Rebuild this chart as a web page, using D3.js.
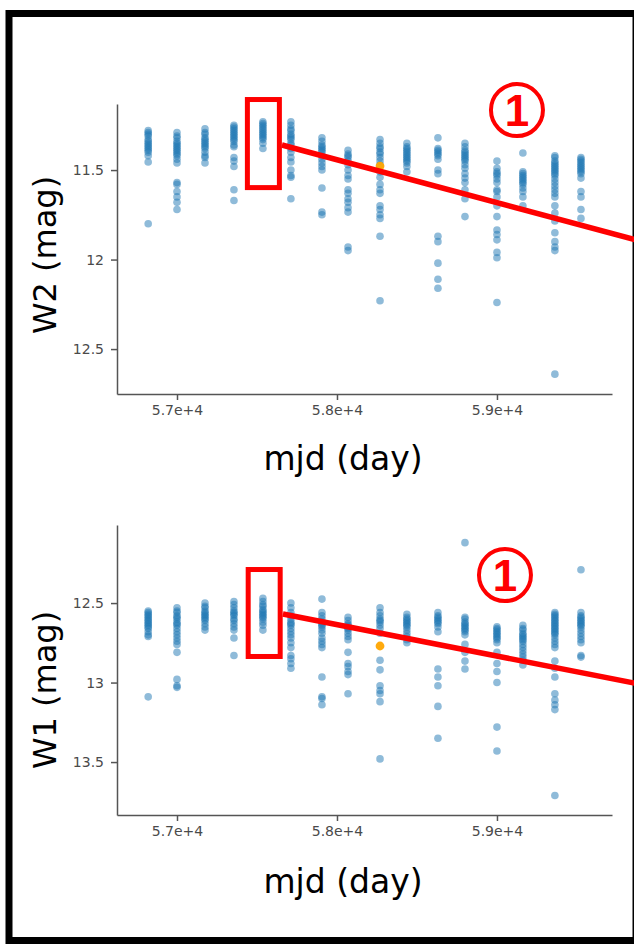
<!DOCTYPE html>
<html>
<head>
<meta charset="utf-8">
<script src="https://cdn.jsdelivr.net/npm/d3@7"></script>
<style>
  html, body { margin: 0; padding: 0; background: #fff; }
  svg { display: block; }
</style>
</head>
<body>
<svg id="chart" width="634" height="944"></svg>
<script>
// Observation epochs (MJD) shared by both WISE bands
const epochs = [56820, 57000, 57175, 57356, 57537, 57712, 57906, 58069,
                58269, 58437, 58631, 58800, 59000, 59162, 59362, 59525];

// W2 magnitudes per epoch
const w2Mags = [
  [11.28, 11.29, 11.30, 11.31, 11.33, 11.34, 11.35, 11.36, 11.37, 11.38, 11.39, 11.40, 11.42, 11.455, 11.80],
  [11.29, 11.31, 11.32, 11.34, 11.35, 11.36, 11.37, 11.38, 11.39, 11.40, 11.41, 11.42, 11.44, 11.46, 11.57, 11.58, 11.62, 11.65, 11.68, 11.72],
  [11.27, 11.29, 11.30, 11.32, 11.33, 11.34, 11.35, 11.36, 11.37, 11.38, 11.40, 11.42, 11.43, 11.46],
  [11.25, 11.26, 11.27, 11.28, 11.29, 11.30, 11.31, 11.32, 11.33, 11.34, 11.36, 11.37, 11.43, 11.45, 11.48, 11.61, 11.67],
  [11.23, 11.24, 11.25, 11.26, 11.27, 11.28, 11.29, 11.30, 11.31, 11.32, 11.33, 11.35, 11.38],
  [11.23, 11.25, 11.27, 11.28, 11.30, 11.31, 11.32, 11.33, 11.35, 11.36, 11.38, 11.40, 11.43, 11.455, 11.50, 11.53, 11.54, 11.66],
  [11.32, 11.34, 11.36, 11.37, 11.38, 11.39, 11.40, 11.42, 11.44, 11.46, 11.48, 11.50, 11.60, 11.735, 11.75],
  [11.39, 11.41, 11.42, 11.43, 11.45, 11.47, 11.50, 11.53, 11.55, 11.61, 11.63, 11.66, 11.68, 11.71, 11.735, 11.93, 11.95],
  [11.33, 11.35, 11.37, 11.38, 11.40, 11.41, 11.43, 11.45, 11.47, 11.51, 11.54, 11.58, 11.61, 11.63, 11.70, 11.72, 11.75, 11.77, 11.87, 12.23],
  [11.35, 11.37, 11.38, 11.39, 11.40, 11.41, 11.42, 11.43, 11.44, 11.45, 11.46, 11.48, 11.51],
  [11.32, 11.38, 11.39, 11.40, 11.41, 11.42, 11.44, 11.50, 11.52, 11.87, 11.90, 12.02, 12.11, 12.16],
  [11.35, 11.37, 11.39, 11.40, 11.41, 11.42, 11.43, 11.44, 11.45, 11.47, 11.49, 11.52, 11.545, 11.57, 11.61, 11.66, 11.76],
  [11.45, 11.49, 11.51, 11.52, 11.53, 11.55, 11.57, 11.61, 11.62, 11.65, 11.70, 11.76, 11.835, 11.86, 11.89, 11.96, 11.99, 12.24],
  [11.405, 11.51, 11.52, 11.53, 11.54, 11.55, 11.56, 11.57, 11.58, 11.60, 11.62, 11.65, 11.70],
  [11.42, 11.43, 11.45, 11.46, 11.47, 11.48, 11.49, 11.50, 11.51, 11.52, 11.53, 11.55, 11.57, 11.59, 11.61, 11.63, 11.65, 11.70, 11.74, 11.785, 11.85, 11.90, 11.93, 11.95, 12.64],
  [11.43, 11.44, 11.45, 11.46, 11.47, 11.48, 11.49, 11.50, 11.51, 11.52, 11.545, 11.62, 11.65, 11.72, 11.77]
];

// W1 magnitudes per epoch
const w1Mags = [
  [12.55, 12.56, 12.57, 12.58, 12.59, 12.60, 12.61, 12.62, 12.63, 12.64, 12.65, 12.66, 12.68, 12.70, 12.71, 13.09],
  [12.53, 12.55, 12.56, 12.58, 12.59, 12.60, 12.62, 12.63, 12.64, 12.66, 12.68, 12.70, 12.72, 12.74, 12.76, 12.81, 12.98, 13.02, 13.03],
  [12.50, 12.52, 12.53, 12.55, 12.56, 12.57, 12.58, 12.59, 12.60, 12.61, 12.63, 12.65, 12.67],
  [12.49, 12.51, 12.53, 12.55, 12.56, 12.57, 12.58, 12.60, 12.61, 12.63, 12.65, 12.67, 12.72, 12.83],
  [12.47, 12.49, 12.51, 12.52, 12.54, 12.55, 12.56, 12.57, 12.58, 12.59, 12.60, 12.62, 12.64, 12.67],
  [12.50, 12.53, 12.56, 12.58, 12.60, 12.62, 12.63, 12.64, 12.66, 12.68, 12.70, 12.72, 12.75, 12.78, 12.83, 12.85, 12.88, 12.91],
  [12.475, 12.56, 12.58, 12.60, 12.62, 12.63, 12.64, 12.65, 12.67, 12.69, 12.72, 12.74, 12.76, 12.78, 12.965, 13.09, 13.10, 13.14],
  [12.59, 12.61, 12.63, 12.64, 12.65, 12.66, 12.67, 12.69, 12.71, 12.73, 12.81, 12.88, 12.90, 12.93, 12.95, 13.07],
  [12.53, 12.56, 12.58, 12.60, 12.61, 12.62, 12.64, 12.66, 12.69, 12.86, 12.92, 13.02, 13.05, 13.07, 13.12, 13.48],
  [12.57, 12.59, 12.60, 12.61, 12.62, 12.63, 12.64, 12.65, 12.67, 12.69, 12.71, 12.73, 12.75],
  [12.56, 12.58, 12.59, 12.60, 12.61, 12.62, 12.63, 12.65, 12.68, 12.915, 12.965, 13.02, 13.15, 13.35],
  [12.12, 12.59, 12.60, 12.62, 12.63, 12.64, 12.65, 12.66, 12.67, 12.68, 12.70, 12.76, 12.81, 12.865, 12.915],
  [12.65, 12.66, 12.67, 12.68, 12.69, 12.70, 12.71, 12.72, 12.73, 12.75, 12.81, 12.88, 12.93, 13.00, 13.28, 13.43],
  [12.64, 12.66, 12.67, 12.69, 12.70, 12.71, 12.72, 12.73, 12.74, 12.76, 12.78, 12.80, 12.82, 12.84, 12.86, 12.89],
  [12.56, 12.57, 12.58, 12.59, 12.60, 12.61, 12.62, 12.63, 12.64, 12.65, 12.66, 12.67, 12.68, 12.69, 12.70, 12.72, 12.74, 12.76, 12.78, 12.865, 12.91, 12.965, 13.07, 13.11, 13.14, 13.17, 13.71],
  [12.29, 12.56, 12.58, 12.59, 12.60, 12.61, 12.62, 12.63, 12.64, 12.65, 12.67, 12.69, 12.71, 12.73, 12.75, 12.83, 12.84]
];

// Highlighted single measurement in each band
const w2Highlight = { mjd: 58269, mag: 11.478 };
const w1Highlight = { mjd: 58269, mag: 12.77 };

// Axis tick values and labels
const xTickValues = [57000, 58000, 59000];
const xTickLabels = ["5.7e+4", "5.8e+4", "5.9e+4"];
const w2TickValues = [11.5, 12, 12.5];
const w2TickLabels = ["11.5", "12", "12.5"];
const w1TickValues = [12.5, 13, 13.5];
const w1TickLabels = ["12.5", "13", "13.5"];

const svg = d3.select("#chart");
const FONT = "'DejaVu Sans', sans-serif";
const RED = "#ff0000";

// Outer frame
svg.append("rect")
  .attr("x", 9).attr("y", 13.5)
  .attr("width", 627).attr("height", 927)
  .attr("fill", "none").attr("stroke", "#000").attr("stroke-width", 7);

function drawPanel(cfg) {
  const x = d3.scaleLinear().domain([56625, 59719]).range([cfg.left, cfg.right]);
  const y = d3.scaleLinear().domain(cfg.yDomain).range([cfg.top, cfg.bottom]);

  const g = svg.append("g");

  // Points
  const pts = [];
  cfg.mags.forEach((list, i) => list.forEach(m => pts.push({ mjd: epochs[i], mag: m })));
  g.append("g").selectAll("circle").data(pts).join("circle")
    .attr("cx", d => x(d.mjd)).attr("cy", d => y(d.mag))
    .attr("r", 3.8)
    .attr("fill", "#1f77b4").attr("fill-opacity", 0.5);

  g.append("circle")
    .attr("cx", x(cfg.highlight.mjd)).attr("cy", y(cfg.highlight.mag))
    .attr("r", 4.4).attr("fill", "#ffa500").attr("fill-opacity", 0.95);

  // Axes
  const xAxis = d3.axisBottom(x).tickValues(xTickValues)
    .tickFormat((d, i) => xTickLabels[i]).tickSize(6).tickSizeOuter(0).tickPadding(5);
  const yAxis = d3.axisLeft(y).tickValues(cfg.yTicks)
    .tickFormat((d, i) => cfg.yLabels[i]).tickSize(6).tickSizeOuter(0).tickPadding(7);

  const gx = g.append("g").attr("transform", `translate(0,${cfg.bottom})`).call(xAxis);
  const gy = g.append("g").attr("transform", `translate(${cfg.left},0)`).call(yAxis);
  [gx, gy].forEach(a => {
    a.select(".domain").attr("stroke", "#555").attr("stroke-width", 1.5);
    a.selectAll(".tick line").attr("stroke", "#555").attr("stroke-width", 1.5);
    a.selectAll(".tick text").attr("fill", "#4a4a4a")
      .style("font-family", FONT).style("font-size", "14px");
  });

  // Axis titles
  g.append("text")
    .attr("transform", `translate(56,${cfg.yTitleY}) rotate(-90)`)
    .attr("text-anchor", "middle")
    .style("font-family", FONT).style("font-size", "32px").attr("fill", "#000")
    .text(cfg.yTitle);
  g.append("text")
    .attr("x", 343).attr("y", cfg.xTitleY)
    .attr("text-anchor", "middle")
    .style("font-family", FONT).style("font-size", "33px").attr("fill", "#000")
    .text("mjd (day)");

  // Callout: box around one epoch with a pointer line running off to the right
  const c = cfg.callout;
  svg.append("rect")
    .attr("x", x(c.mjd0)).attr("y", y(c.magTop))
    .attr("width", x(c.mjd1) - x(c.mjd0)).attr("height", y(c.magBottom) - y(c.magTop))
    .attr("fill", "none").attr("stroke", RED).attr("stroke-width", 5);
  svg.append("line")
    .attr("x1", x(c.lineStart[0])).attr("y1", y(c.lineStart[1]))
    .attr("x2", x(c.lineEnd[0])).attr("y2", y(c.lineEnd[1]))
    .attr("stroke", RED).attr("stroke-width", 5.5);

  // Circled marker number
  const mx = x(c.badge[0]), my = y(c.badge[1]);
  svg.append("circle").attr("cx", mx).attr("cy", my).attr("r", 26)
    .attr("fill", "none").attr("stroke", RED).attr("stroke-width", 4);
  svg.append("text").attr("x", mx).attr("y", my + 16)
    .attr("text-anchor", "middle")
    .style("font-family", "'Liberation Sans', Arial, sans-serif")
    .style("font-size", "44px").style("font-weight", "bold")
    .attr("fill", RED).text("1");
}

drawPanel({
  left: 117, right: 612, top: 104, bottom: 394,
  yDomain: [11.131, 12.751],
  yTicks: w2TickValues, yLabels: w2TickLabels,
  mags: w2Mags, highlight: w2Highlight,
  yTitle: "W2 (mag)", yTitleY: 255, xTitleY: 470,
  callout: {
    mjd0: 57440, mjd1: 57640, magTop: 11.106, magBottom: 11.598,
    lineStart: [57656, 11.36], lineEnd: [59870, 11.89],
    badge: [59125, 11.165]
  }
});

drawPanel({
  left: 117, right: 612, top: 525, bottom: 815,
  yDomain: [12.009, 13.833],
  yTicks: w1TickValues, yLabels: w1TickLabels,
  mags: w1Mags, highlight: w1Highlight,
  yTitle: "W1 (mag)", yTitleY: 690, xTitleY: 893,
  callout: {
    mjd0: 57445, mjd1: 57645, magTop: 12.289, magBottom: 12.836,
    lineStart: [57662, 12.569], lineEnd: [59870, 13.005],
    badge: [59050, 12.324]
  }
});
</script>
</body>
</html>
